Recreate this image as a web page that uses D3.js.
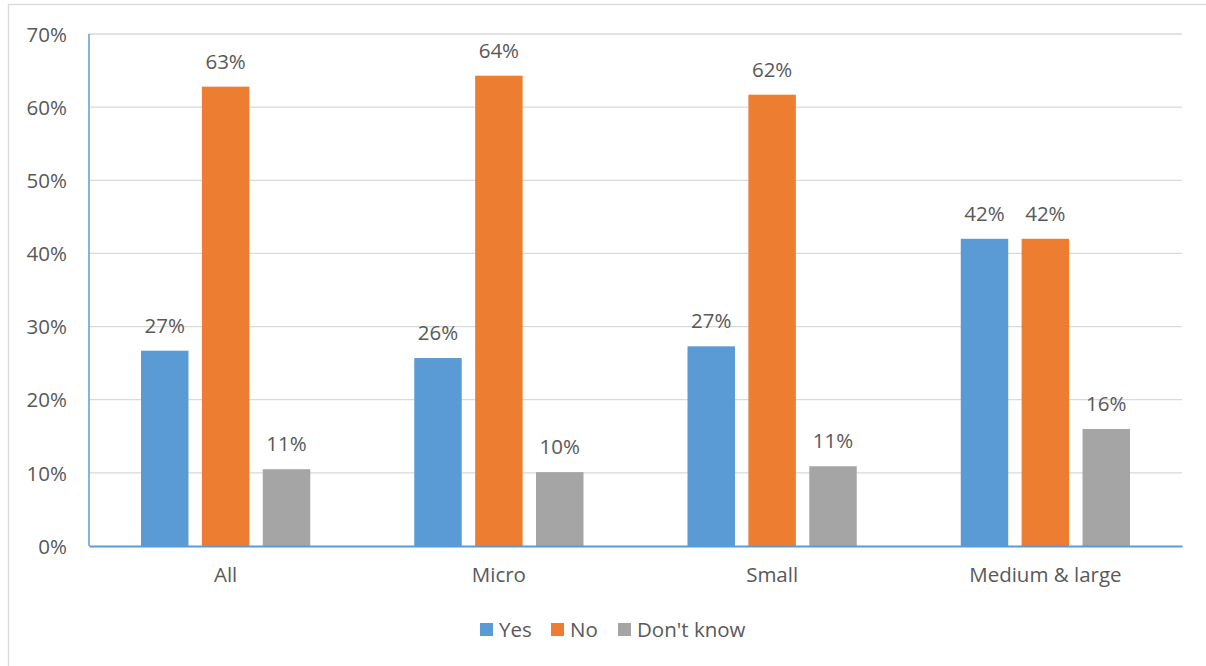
<!DOCTYPE html>
<html><head><meta charset="utf-8">
<script src="https://cdn.jsdelivr.net/npm/d3@7"></script>
<style>
body{margin:0;background:#fff;}
text{font-family:"Open Sans","Liberation Sans",sans-serif;fill:#595959;}
</style></head>
<body><svg id="c" width="1206" height="666"></svg>
<script>
const categories = ["All","Micro","Small","Medium & large"];
const seriesNames = ["Yes","No","Don't know"];
const yesValues = [26.7,25.7,27.3,42.0];
const noValues = [62.8,64.3,61.7,42.0];
const dkValues = [10.5,10.1,10.9,16.0];
const valueLabels = [["27%","63%","11%"],["26%","64%","10%"],["27%","62%","11%"],["42%","42%","16%"]];
const yTicks = [0,10,20,30,40,50,60,70];
const colors = ["#5b9bd5","#ed7d31","#a5a5a5"];
const FS = "20.5px";

const svg = d3.select("#c");
svg.append("rect").attr("x",8.5).attr("y",4.5).attr("width",1220).attr("height",700)
  .attr("fill","none").attr("stroke","#d9d9d9").attr("stroke-width",1.3);

const L=89, R=1182, T=34, B=546;
const y = d3.scaleLinear().domain([0,70]).range([B,T]);
const x0 = d3.scaleBand().domain(categories).range([L,R]).padding(0);
const x1 = d3.scaleBand().domain(seriesNames).range([52, x0.bandwidth()-52]).paddingInner(0.22).paddingOuter(0);

// gridlines
svg.append("g").selectAll("line").data(yTicks.filter(d=>d>0)).join("line")
  .attr("x1",L).attr("x2",R).attr("y1",d=>y(d)).attr("y2",d=>y(d))
  .attr("stroke","#d9d9d9").attr("stroke-width",1.3);

// y axis
const yAxis = d3.axisLeft(y).tickValues(yTicks).tickFormat(d=>d+"%").tickSize(0).tickPadding(22);
const gy = svg.append("g").attr("transform",`translate(${L},0)`).call(yAxis);
gy.select(".domain").remove();
gy.selectAll("text").style("font-size",FS).attr("dy","0.35em");

const data = categories.map((c,i)=>({cat:c, vals:[yesValues[i],noValues[i],dkValues[i]], labels:valueLabels[i]}));

const groups = svg.append("g").selectAll("g").data(data).join("g")
  .attr("transform",d=>`translate(${x0(d.cat)},0)`);
groups.selectAll("rect").data(d=>d.vals.map((v,j)=>({s:seriesNames[j],v,j}))).join("rect")
  .attr("x",d=>x1(d.s)).attr("width",x1.bandwidth())
  .attr("y",d=>y(d.v)).attr("height",d=>B-y(d.v)).attr("fill",d=>colors[d.j]);
groups.selectAll("text.lbl").data(d=>d.vals.map((v,j)=>({s:seriesNames[j],v,l:d.labels[j]}))).join("text")
  .attr("class","lbl").attr("x",d=>x1(d.s)+x1.bandwidth()/2).attr("y",d=>y(d.v)-18)
  .attr("text-anchor","middle").style("font-size",FS).text(d=>d.l);

// axes lines
svg.append("line").attr("x1",L).attr("x2",L).attr("y1",T).attr("y2",B).attr("stroke","#5b9bd5").attr("stroke-width",1.5);
const xAxis = d3.axisBottom(x0).tickSize(0).tickPadding(21);
const gx = svg.append("g").attr("transform",`translate(0,${B})`).call(xAxis);
gx.select(".domain").attr("stroke","#5b9bd5").attr("stroke-width",2);
gx.selectAll("text").style("font-size",FS);

// legend
const legX=[480,551,618];
const lg = svg.append("g").selectAll("g").data(seriesNames).join("g")
  .attr("transform",(d,i)=>`translate(${legX[i]},623)`);
lg.append("rect").attr("width",13).attr("height",13).attr("fill",(d,i)=>colors[i]);
lg.append("text").attr("x",19).attr("y",7).attr("dy","0.35em").style("font-size",FS).text(d=>d);
</script></body></html>
